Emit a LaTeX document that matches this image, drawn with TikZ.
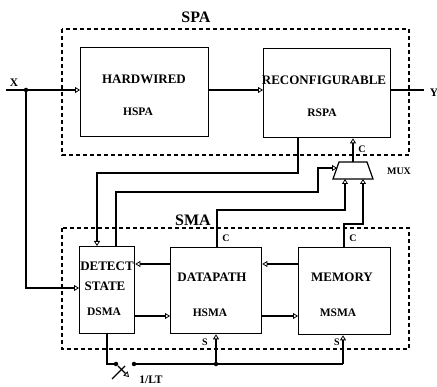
\documentclass[tikz,border=0pt]{standalone}
\usepackage{fontspec}
\setmainfont{Liberation Serif}
\usetikzlibrary{arrows.meta}
\begin{document}
\begin{tikzpicture}[x=1pt,y=-1pt,
  every node/.style={font=\bfseries},
  blk/.style={draw,line width=1.3pt,inner sep=0pt,anchor=north west},
  grp/.style={draw,line width=1.1pt,dash pattern=on 4pt off 3pt},
  wire/.style={line width=1.1pt},
  arr/.style={wire,-{Triangle[open,length=5pt,width=6pt,line width=0.8pt]}},
  main/.style={font=\bfseries\fontsize{13}{15}\selectfont,inner sep=0pt},
  sub/.style={font=\bfseries\fontsize{11.5}{13}\selectfont,inner sep=0pt},
  ttl/.style={font=\bfseries\fontsize{16}{18}\selectfont,inner sep=0pt},
  sml/.style={font=\bfseries\fontsize{10}{11}\selectfont,inner sep=0pt},
  dotn/.style={circle,fill,inner sep=0pt,minimum size=4.5pt}]
\useasboundingbox (0,0) rectangle (437,387);
% group boxes
\draw[grp] (62,29) rectangle (409,155);
\draw[grp] (62,228) rectangle (409,349);
\node[ttl] (spa) at (196,17) {SPA};
\node[ttl] (sma) at (193,220) {SMA};
% blocks
\node[blk,minimum width=128pt,minimum height=89pt] (hw) at (80,47) {};
\node[blk,minimum width=127pt,minimum height=89pt] (rc) at (263,48) {};
\node[blk,minimum width=55pt,minimum height=87pt] (ds) at (79,246) {};
\node[blk,minimum width=91pt,minimum height=86pt] (dp) at (170,247) {};
\node[blk,minimum width=92pt,minimum height=87pt] (mm) at (298,247) {};
% texts
\node[main] (t1) at (144,79) {HARDWIRED};
\node[sub] (t2) at (138,112) {HSPA};
\node[main] (t3) at (324,80) {RECONFIGURABLE};
\node[sub] (t4) at (322,113) {RSPA};
\node[main] (t5) at (107,266) {DETECT};
\node[main] (t6) at (105,286) {STATE};
\node[sub] (t7) at (104,312) {DSMA};
\node[main] (t8) at (212,277) {DATAPATH};
\node[sub] (t9) at (210,313) {HSMA};
\node[main] (t10) at (342,277) {MEMORY};
\node[sub] (t11) at (338,313) {MSMA};
% mux
\coordinate (mtl) at (339,162); \coordinate (mtr) at (367,162);
\coordinate (mbr) at (373,179); \coordinate (mbl) at (333,179);
\draw[line width=1.2pt] (mtl) -- (mtr) -- (mbr) -- (mbl) -- cycle;
\node[sml] (muxl) at (399,171) {MUX};
\coordinate (mout) at (353,162);
\draw[arr] (mout) -- (mout |- rc.south);
\node[sml] (c1) at (362,149) {C};
% X input
\coordinate (xin) at (6,90);
\node[dotn] (xd) at (26,90) {};
\node[main,font=\bfseries\fontsize{11.5}{12}\selectfont] (xl) at (14,83) {X};
\draw[arr] (xin) -- (xin -| hw.west);
\draw[arr] (hw.east |- xin) -- (rc.west |- xin);
\coordinate (yout) at (424,90);
\draw[wire] (rc.east |- xin) -- (yout);
\node[main,font=\bfseries\fontsize{11.5}{12}\selectfont] (yl) at (434,93) {Y};
\draw[arr] (xd.center) -- (26,288) -- (ds.west |- 0,288);
% rc -> detect
\coordinate (r1) at (298,173); \coordinate (r2) at (97,173);
\draw[arr] (rc.south -| r1) -- (r1) -- (r2) -- (r2 |- ds.north);
% detect -> mux left
\coordinate (d1) at (116,192); \coordinate (d2) at (318,192);
\coordinate (d3) at (318,168); \coordinate (mli) at (337,168);
\draw[arr] (d1 |- ds.north) -- (d1) -- (d2) -- (d3) -- (mli);
% datapath -> mux
\coordinate (p1) at (217,210); \coordinate (p2) at (345,210);
\draw[arr] (p1 |- dp.north) -- (p1) -- (p2) -- (p2 |- mbl);
\node[sml] (c2) at (226,238) {C};
% memory -> mux
\coordinate (m1) at (344,224); \coordinate (m2) at (363,224);
\draw[arr] (m1 |- mm.north) -- (m1) -- (m2) -- (m2 |- mbl);
\node[sml] (c3) at (353,238) {C};
% inner connections
\draw[arr] (dp.west |- 0,264) -- (ds.east |- 0,264);
\draw[arr] (mm.west |- 0,264) -- (dp.east |- 0,264);
\draw[arr] (ds.east |- 0,316) -- (dp.west |- 0,316);
\draw[arr] (dp.east |- 0,316) -- (mm.west |- 0,316);
% bottom switch
\node[dotn] (sw1) at (116,364) {};
\node[dotn] (sw2) at (134,364) {};
\node[dotn] (bj) at (216,364) {};
\draw[wire] (ds.south -| 107,0) |- (sw1.center);
\coordinate (b2) at (343,364);
\draw[wire] (sw2.center) -- (b2);
\draw[arr] (b2) -- (b2 |- mm.south);
\draw[arr] (bj.center) -- (bj |- dp.south);
\node[sml] (s1) at (205,342) {S};
\node[sml] (s2) at (337,342) {S};
% variable symbol
\draw[wire] (112,379) -- (125,366);
\draw[arr] (118,366) -- (129,377);
\node[sub] (lt) at (151,380) {1/LT};
\end{tikzpicture}
\end{document}
